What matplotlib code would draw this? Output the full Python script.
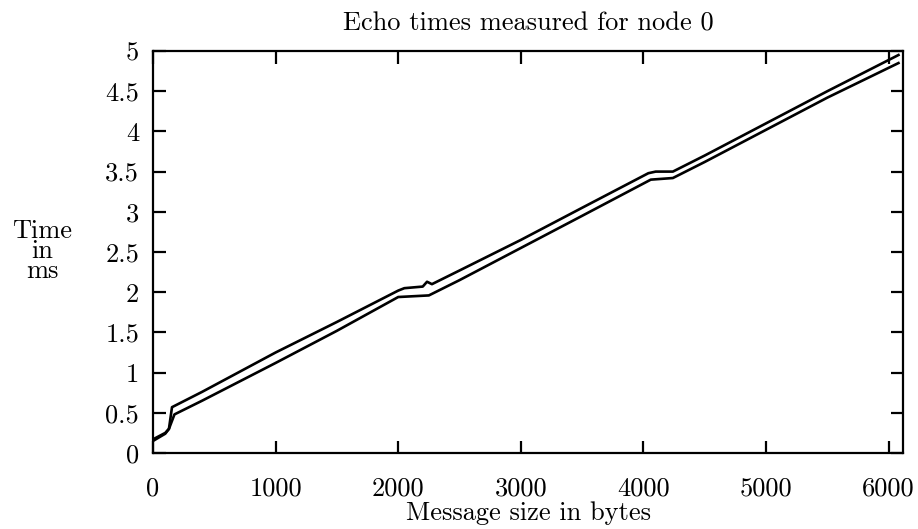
import numpy as np
import matplotlib.pyplot as plt

# upper curve (readings from the reference)
up_x = [0, 100, 130, 155, 400, 1000, 1500, 2000, 2050, 2200, 2235, 2275,
        2500, 3000, 3500, 4040, 4100, 4240, 4500, 5000, 5500, 6080]
up_y = [0.17, 0.25, 0.30, 0.57, 0.76, 1.25, 1.63, 2.02, 2.05, 2.07, 2.13, 2.10,
        2.27, 2.65, 3.05, 3.48, 3.50, 3.50, 3.70, 4.10, 4.50, 4.95]

# lower curve
lo_x = [0, 100, 130, 175, 400, 1000, 1500, 2000, 2250, 2500, 3000, 3500,
        4060, 4240, 4500, 5000, 5500, 6080]
lo_y = [0.15, 0.24, 0.30, 0.48, 0.65, 1.12, 1.52, 1.94, 1.96, 2.15, 2.55, 2.95,
        3.40, 3.42, 3.62, 4.02, 4.42, 4.85]

xticks = [0, 1000, 2000, 3000, 4000, 5000, 6000]
xtick_labels = ['0', '1000', '2000', '3000', '4000', '5000', '6000']
yticks = [0, 0.5, 1, 1.5, 2, 2.5, 3, 3.5, 4, 4.5, 5]
ytick_labels = ['0', '0.5', '1', '1.5', '2', '2.5', '3', '3.5', '4', '4.5', '5']

plt.rcParams['font.family'] = 'cmr10'
plt.rcParams['mathtext.fontset'] = 'cm'
plt.rcParams['axes.formatter.use_mathtext'] = True

fs = 19

fig = plt.figure(figsize=(9.18, 5.29), dpi=100)
ax = fig.add_axes([153/918, 1 - 453/529, 750/918, 402/529])

ax.plot(up_x, up_y, color='black', lw=1.9)
ax.plot(lo_x, lo_y, color='black', lw=1.9)

ax.set_xlim(0, 6117)
ax.set_ylim(0, 5)
ax.set_xticks(xticks)
ax.set_xticklabels(xtick_labels)
ax.set_yticks(yticks)
ax.set_yticklabels(ytick_labels)
ax.tick_params(direction='in', length=9, width=1.6, labelsize=fs,
               top=True, right=True)
ax.tick_params(axis='x', pad=17)
ax.tick_params(axis='y', pad=10)
for s in ax.spines.values():
    s.set_linewidth(1.6)

ax.set_title('Echo times measured for node 0', fontsize=fs, pad=15)
ax.set_xlabel('Message size in bytes', fontsize=fs, labelpad=1)
fig.text(42/918, 1 - 251/529, 'Time\nin\nms', fontsize=fs,
         ha='center', va='center', linespacing=0.8)

fig.savefig('out.png', dpi=100)
